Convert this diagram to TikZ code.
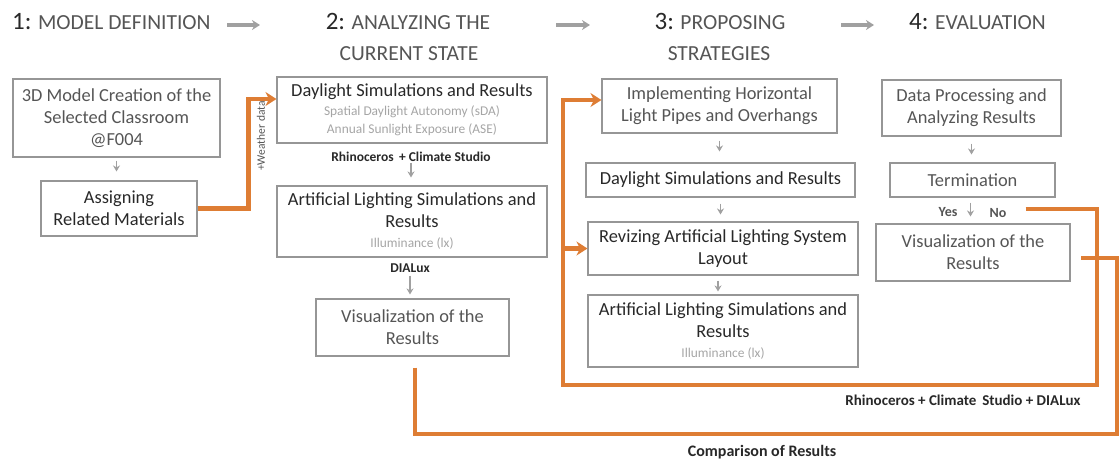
\documentclass[tikz,border=0pt]{standalone}
\usepackage{fontspec}
\setmainfont{Carlito}
\usepackage{tikz}
\usetikzlibrary{arrows,arrows.meta}
\usetikzlibrary{shapes,positioning}

\definecolor{boxgray}{RGB}{150,150,150}
\definecolor{txtdark}{RGB}{40,40,40}
\definecolor{txtmid}{RGB}{85,85,85}
\definecolor{txtlight}{RGB}{165,165,165}
\definecolor{arrgray}{RGB}{160,160,160}
\definecolor{orng}{RGB}{222,125,52}

\newcommand{\subt}[1]{{\fontsize{13.4}{16}\selectfont\color{txtlight}#1}}
\newcommand{\bignum}[1]{{\fontsize{25}{28}\selectfont\color{txtdark}#1}}

\tikzset{>=stealth,
  boxlight/.style={draw=boxgray,line width=1.1pt,align=center,inner sep=2pt,
    font=\fontsize{18.4}{22}\selectfont,text=txtmid},
  boxdark/.style={boxlight,text=txtdark},
  hdr/.style={font=\fontsize{21.5}{24}\selectfont,text=txtmid,inner sep=0pt},
  tooltxt/.style={font=\bfseries\fontsize{13.5}{15}\selectfont,text=txtdark,inner sep=1pt},
  yesno/.style={font=\bfseries\fontsize{14}{16}\selectfont,text=txtmid,inner sep=1pt},
  grayarr/.style={-{Stealth[length=6pt,width=7pt]},arrgray,line width=1.7pt},
  hdrarr/.style={-{Stealth[length=8pt,width=10pt]},arrgray,line width=3.2pt},
  orngline/.style={orng,line width=4.2pt},
  orngarr/.style={-{Stealth[length=11pt,width=14pt]},orng,line width=4.2pt}}

\begin{document}
\begin{tikzpicture}[x=1pt,y=-1pt]

  \useasboundingbox (0,0) rectangle (1119,461);

  % headers
  \node[hdr,anchor=base west] (h1) at (12,29) {\bignum{1:} MODEL DEFINITION};
  \node[hdr,anchor=base] (h2) at (408,29) {\bignum{2:} ANALYZING THE};
  \node[hdr,anchor=base] (h2b) at (409,60) {CURRENT STATE};
  \node[hdr,anchor=base] (h3) at (720,29) {\bignum{3:} PROPOSING};
  \node[hdr,anchor=base] (h3b) at (719,60) {STRATEGIES};
  \node[hdr,anchor=base west] (h4) at (909,29) {\bignum{4:} EVALUATION};

  \coordinate (a1) at (227,25);
  \coordinate (a2) at (556,25);
  \coordinate (a3) at (841,25);
  \draw[hdrarr] (a1) -- ++(33,0);
  \draw[hdrarr] (a2) -- ++(34,0);
  \draw[hdrarr] (a3) -- ++(33,0);


  % 1: model definition
  \node[boxlight,minimum width=207pt,minimum height=78pt] (model) at (116.5,118)
    {3D Model Creation of the\\Selected Classroom\\@F004};
  \node[boxdark,minimum width=156pt,minimum height=55pt] (assign) at (119,208.5)
    {Assigning\\Related Materials};

  \draw[grayarr,shorten <=3pt,shorten >=9pt] (model.south) -- (model.south |- assign.north);


  % 2: analyzing the current state
  \node[boxdark,minimum width=270pt,minimum height=66pt] (day) at (412,110)
    {Daylight Simulations and Results\\[-3pt]\subt{Spatial Daylight Autonomy (sDA)}\\[-4pt]\subt{Annual Sunlight Exposure (ASE)}};
  \node[tooltxt] (rc) at (411,157) {Rhinoceros\, + Climate Studio};
  \node[boxdark,minimum width=270pt,minimum height=71pt] (art) at (412,221.5)
    {Artificial Lighting Simulations and\\Results\\[-2pt]\subt{Illuminance (lx)}};
  \node[tooltxt] (dx) at (410,268) {DIALux};
  \node[boxlight,minimum width=193pt,minimum height=57pt] (vis) at (412.5,327.5)
    {Visualization of the\\Results};

  \draw[grayarr,shorten <=0pt,shorten >=8pt] (rc.south) -- (rc.south |- art.north);
  \draw[grayarr,shorten <=2pt,shorten >=4pt] (dx.south) -- (dx.south |- vis.north);

  \draw[orngarr] (assign.east) -- ++(51,0) |- ([yshift=11pt]day.west);
  \node[rotate=90,font=\fontsize{11.5}{14}\selectfont,text=txtmid] (wd) at (261,136) {+Weather data};


  % 3: proposing strategies
  \node[boxlight,minimum width=235pt,minimum height=54pt] (pipes) at (719.5,106)
    {Implementing Horizontal\\Light Pipes and Overhangs};
  \node[boxdark,minimum width=269pt,minimum height=34pt] (day2) at (720.5,180)
    {Daylight Simulations and Results};
  \node[boxdark,minimum width=270pt,minimum height=53pt] (revise) at (723,248.5)
    {Revizing Artificial Lighting System\\Layout};
  \node[boxdark,minimum width=270pt,minimum height=72pt] (art2) at (723,331)
    {Artificial Lighting Simulations and\\Results\\[-2pt]\subt{Illuminance (lx)}};

  \draw[grayarr,shorten <=7pt,shorten >=11pt] (pipes.south) -- (pipes.south |- day2.north);
  \draw[grayarr,shorten <=6pt,shorten >=7pt] (day2.south) -- (day2.south |- revise.north);
  \draw[grayarr,shorten <=5pt,shorten >=3pt] ([xshift=-5pt]revise.south) -- ([xshift=-5pt]revise.south |- art2.north);


  % 4: evaluation
  \node[boxlight,minimum width=179pt,minimum height=56pt] (proc) at (971.5,108)
    {Data Processing and\\Analyzing Results};
  \node[boxlight,minimum width=165pt,minimum height=34pt] (term) at (972.5,180)
    {Termination};
  \node[yesno] (yes) at (948,212) {Yes};
  \node[yesno] (no) at (998,213) {No};
  \node[boxlight,minimum width=194pt,minimum height=57pt] (vis2) at (973,252.5)
    {Visualization of the\\Results};

  \draw[grayarr,shorten <=7pt,shorten >=8pt] (proc.south) -- (proc.south |- term.north);
  \draw[grayarr,shorten <=5pt,shorten >=7pt] ([xshift=-2pt]term.south) -- ([xshift=-2pt]term.south |- vis2.north);


  % loops
  \coordinate (rloop) at (1097,385);
  \coordinate (lloop) at (563,385);
  \coordinate (outer) at (1117,434);

  \draw[orngarr] ([xshift=18pt,yshift=4pt]no.east) -| (rloop) -- (lloop) |- ([yshift=6pt]pipes.west);
  \draw[orngarr] (lloop |- revise.west) -- (revise.west);
  \node[tooltxt,font=\bfseries\fontsize{15}{17}\selectfont] (tools) at (963,400) {Rhinoceros + Climate\, Studio + DIALux};

  \draw[orngline] ([xshift=2.5pt,yshift=-11pt]vis.south) |- (outer) |- ([xshift=10pt,yshift=-5.5pt]vis2.east);
  \node[tooltxt,font=\bfseries\fontsize{16}{18}\selectfont] (comp) at (762,452) {Comparison of Results};

\end{tikzpicture}
\end{document}
